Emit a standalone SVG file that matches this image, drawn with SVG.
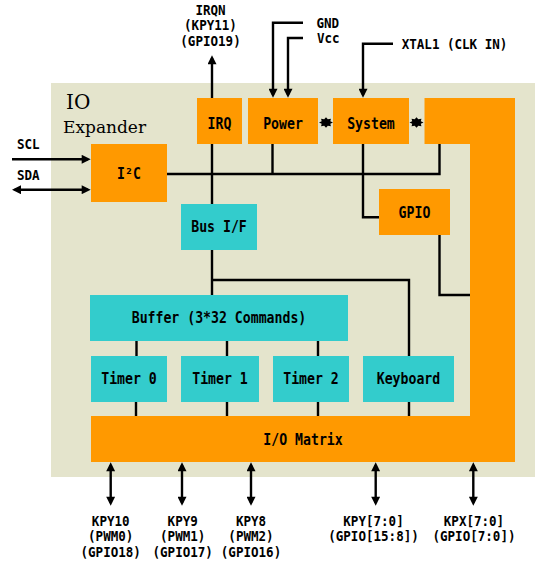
<svg xmlns="http://www.w3.org/2000/svg" width="540" height="562" viewBox="0 0 540 562">
<style>
.panel{fill:#E4E4CC}
.org{fill:#FF9900}
.teal{fill:#33CCCC}
.ln{fill:none;stroke:#000;stroke-width:2.4}
.t{font-family:"DejaVu Sans Mono","Liberation Mono",monospace;font-weight:bold;font-size:15px;fill:#000;text-anchor:middle;transform-box:fill-box;transform-origin:center;transform:scaleX(0.88)}
.o{font-family:"DejaVu Sans Mono","Liberation Mono",monospace;font-weight:bold;font-size:13.5px;fill:#000;text-anchor:middle;transform-box:fill-box;transform-origin:center;transform:scaleX(0.93)}
.os{text-anchor:start;transform-origin:left center}
.title{font-family:"DejaVu Serif","Liberation Serif",serif;fill:#000}
</style>
<defs>
<marker id="ah" viewBox="0 0 10 10" refX="7" refY="5" markerWidth="10" markerHeight="9" markerUnits="userSpaceOnUse" orient="auto-start-reverse">
<path d="M0,0 L10,5 L0,10 z" fill="#000"/>
</marker>
<polygon id="star" points="7,0 4.3,1.8 4.95,4.95 1.8,4.3 0,7 -1.8,4.3 -4.95,4.95 -4.3,1.8 -7,0 -4.3,-1.8 -4.95,-4.95 -1.8,-4.3 0,-7 1.8,-4.3 4.95,-4.95 4.3,-1.8" fill="#000"/>
</defs>

<g id="io-expander">
<rect class="panel" x="51" y="83" width="484" height="394"/>
<text class="title" x="66" y="109" font-size="20">IO</text>
<text class="title" x="63" y="133" font-size="17">Expander</text>
</g>

<g id="connectors">
<line class="ln" x1="212" y1="98" x2="212" y2="58" marker-end="url(#ah)"/>
<polyline class="ln" points="303,22.7 273,22.7 273,95" marker-end="url(#ah)"/>
<polyline class="ln" points="303,38 288,38 288,95" marker-end="url(#ah)"/>
<polyline class="ln" points="393,43.7 363,43.7 363,95" marker-end="url(#ah)"/>
<line class="ln" x1="12" y1="159.3" x2="88" y2="159.3" marker-end="url(#ah)"/>
<line class="ln" x1="14.7" y1="189.7" x2="88" y2="189.7" marker-start="url(#ah)" marker-end="url(#ah)"/>
<path class="ln" d="M212,144 V204 M212,250 V295 M167,174 H439.5 V144 M272.5,144 V174 M363,144 V217.3 H379 M439.5,235 V295 H470 M212,280 H409 V356"/>
<path class="ln" d="M136.5,341 V356 M227,341 V356 M318,341 V356 M136,402 V416 M227,402 V416 M318,402 V416 M409,402 V416"/>
<use href="#star" transform="translate(326,122.5) scale(1,0.75)"/>
<use href="#star" transform="translate(416.5,122.5) scale(1,0.75)"/>
<line class="ln" x1="110.7" y1="465" x2="110.7" y2="503" marker-start="url(#ah)" marker-end="url(#ah)"/>
<line class="ln" x1="182" y1="465" x2="182" y2="503" marker-start="url(#ah)" marker-end="url(#ah)"/>
<line class="ln" x1="251" y1="465" x2="251" y2="503" marker-start="url(#ah)" marker-end="url(#ah)"/>
<line class="ln" x1="375.7" y1="465" x2="375.7" y2="503" marker-start="url(#ah)" marker-end="url(#ah)"/>
<line class="ln" x1="473.3" y1="465" x2="473.3" y2="503" marker-start="url(#ah)" marker-end="url(#ah)"/>
</g>

<g id="io-matrix">
<polygon class="org" points="424.5,98 515,98 515,462 91,462 91,416 470,416 470,144 424.5,144"/>
<text class="t" x="303" y="445">I/O Matrix</text>
</g>
<g id="irq"><rect class="org" x="197" y="98" width="45" height="46"/><text class="t" x="219.5" y="129">IRQ</text></g>
<g id="power"><rect class="org" x="248" y="98" width="70" height="46"/><text class="t" x="283" y="129">Power</text></g>
<g id="system"><rect class="org" x="333" y="98" width="76" height="46"/><text class="t" x="371" y="129">System</text></g>
<g id="i2c"><rect class="org" x="91" y="144" width="76" height="58"/><text class="t" x="129" y="179">I²C</text></g>
<g id="gpio"><rect class="org" x="379" y="189" width="71" height="46"/><text class="t" x="414.5" y="218.5">GPIO</text></g>
<g id="bus-if"><rect class="teal" x="181" y="204" width="76" height="46"/><text class="t" x="219" y="232.5">Bus I/F</text></g>
<g id="buffer"><rect class="teal" x="90" y="295" width="258" height="46"/><text class="t" x="219" y="323.5">Buffer (3*32 Commands)</text></g>
<g id="timer0"><rect class="teal" x="91" y="356" width="76" height="46"/><text class="t" x="129" y="384.5">Timer 0</text></g>
<g id="timer1"><rect class="teal" x="181" y="356" width="78" height="46"/><text class="t" x="220" y="384.5">Timer 1</text></g>
<g id="timer2"><rect class="teal" x="273" y="356" width="76" height="46"/><text class="t" x="311" y="384.5">Timer 2</text></g>
<g id="keyboard"><rect class="teal" x="363" y="356" width="91" height="46"/><text class="t" x="408.5" y="384.5">Keyboard</text></g>

<g id="labels">
<text class="o" x="210.5" y="15">IRQN</text>
<text class="o" x="210.5" y="30.5">(KPY11)</text>
<text class="o" x="210.5" y="46">(GPIO19)</text>
<text class="o os" x="316.5" y="28">GND</text>
<text class="o os" x="317" y="43.5">Vcc</text>
<text class="o os" x="401.7" y="49">XTAL1 (CLK IN)</text>
<text class="o os" x="17" y="149">SCL</text>
<text class="o os" x="17" y="180">SDA</text>
<text class="o" x="110.7" y="526">KPY10</text>
<text class="o" x="110.7" y="541.5">(PWM0)</text>
<text class="o" x="110.7" y="557">(GPIO18)</text>
<text class="o" x="182.7" y="526">KPY9</text>
<text class="o" x="182.7" y="541.5">(PWM1)</text>
<text class="o" x="182.7" y="557">(GPIO17)</text>
<text class="o" x="251" y="526">KPY8</text>
<text class="o" x="251" y="541.5">(PWM2)</text>
<text class="o" x="251" y="557">(GPIO16)</text>
<text class="o" x="373.5" y="526">KPY[7:0]</text>
<text class="o" x="373.5" y="541.5">(GPIO[15:8])</text>
<text class="o" x="474" y="526">KPX[7:0]</text>
<text class="o" x="474" y="541.5">(GPIO[7:0])</text>
</g>
</svg>
